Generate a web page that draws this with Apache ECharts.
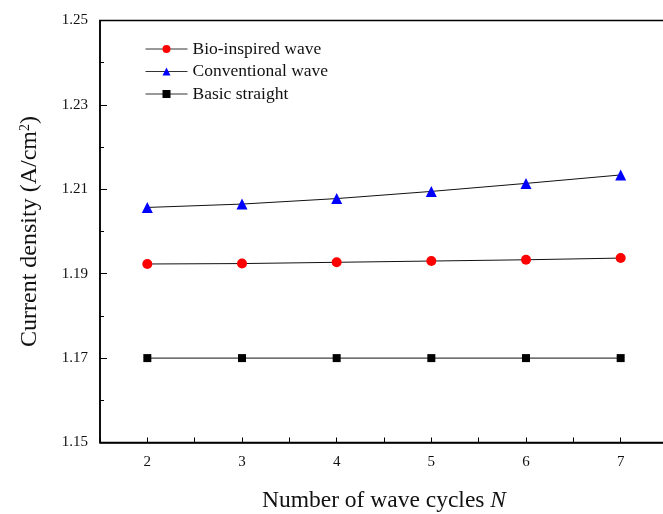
<!DOCTYPE html>
<html><head><meta charset="utf-8">
<script src="https://cdn.jsdelivr.net/npm/echarts@6/dist/echarts.min.js"></script>
<style>html,body{margin:0;padding:0;background:#fff}#c{width:663px;height:514px}</style>
</head><body><div id="c"></div>
<script>
var cycles = [2, 3, 4, 5, 6, 7];
var bioWave = [1.1923, 1.1924, 1.1927, 1.1930, 1.1933, 1.1937];
var convWave = [1.2057, 1.2065, 1.2078, 1.2095, 1.2114, 1.2134];
var basicStraight = [1.170, 1.170, 1.170, 1.170, 1.170, 1.170];
var seriesNames = ['Bio-inspired wave', 'Conventional wave', 'Basic straight'];
var yTicks = [1.15, 1.17, 1.19, 1.21, 1.23, 1.25];

function pairs(vals){ return cycles.map(function(x,i){ return [x, vals[i]]; }); }
var font = '"Liberation Serif", "DejaVu Serif", serif';
var chart = echarts.init(document.getElementById('c'), null, {renderer:'canvas'});
function mk(name, vals, symbol, size, color){
  return {name:name, type:'line', data:pairs(vals), symbol:symbol, symbolSize:size,
    lineStyle:{color:'#111', width:1}, itemStyle:{color:color, borderWidth:0},
    emphasis:{disabled:true}, animation:false};
}
chart.setOption({
  animation:false,
  backgroundColor:'#fff',
  grid:{left:100, top:20.5, width:568, height:422, outerBoundsMode:'none', containLabel:false,
    show:true, borderColor:'#000', borderWidth:1.5, backgroundColor:'transparent'},
  legend:{orient:'vertical', left:145, top:40, padding:0, itemWidth:42, itemHeight:10, itemGap:4.5,
    lineStyle:{color:'#333', width:1},
    textStyle:{fontFamily:font, fontSize:17.5, lineHeight:18, color:'#111'}, data:seriesNames},
  xAxis:{type:'value', min:1.5, max:7.5, interval:0.5,
    name:'Number of wave cycles {i|N}', nameLocation:'middle', nameGap:46,
    nameTextStyle:{fontFamily:font, fontSize:23.5, color:'#111', rich:{i:{fontFamily:font, fontSize:23.5, fontStyle:'italic', color:'#111'}}},
    axisLine:{lineStyle:{color:'#000', width:1.5}},
    axisTick:{inside:true, length:5, lineStyle:{color:'#000', width:1}},
    splitLine:{show:false},
    axisLabel:{fontFamily:font, fontSize:15, color:'#111', margin:12,
      formatter:function(v){ return Math.abs(v-Math.round(v))<1e-6 ? String(Math.round(v)) : ''; }}},
  yAxis:{type:'value', min:yTicks[0], max:yTicks[yTicks.length-1], interval:0.02,
    name:'Current density (A/cm{s|2})', nameLocation:'middle', nameGap:58, nameRotate:90,
    nameTextStyle:{fontFamily:font, fontSize:24, color:'#111', rich:{s:{fontFamily:font, fontSize:14, verticalAlign:'top', padding:[0,0,10,0], color:'#111'}}},
    axisLine:{show:true, lineStyle:{color:'#000', width:1.5}},
    axisTick:{inside:true, length:7, lineStyle:{color:'#000', width:1}},
    minorTick:{show:true, splitNumber:2, length:4, lineStyle:{color:'#000'}},
    splitLine:{show:false},
    axisLabel:{fontFamily:font, fontSize:15, color:'#111', margin:12,
      formatter:function(v){ return v.toFixed(2); }}},
  series:[
    mk(seriesNames[0], bioWave, 'circle', 10, '#ff0000'),
    mk(seriesNames[1], convWave, 'triangle', 11, '#0000ff'),
    mk(seriesNames[2], basicStraight, 'rect', 8, '#000000')
  ]
});
</script></body></html>
